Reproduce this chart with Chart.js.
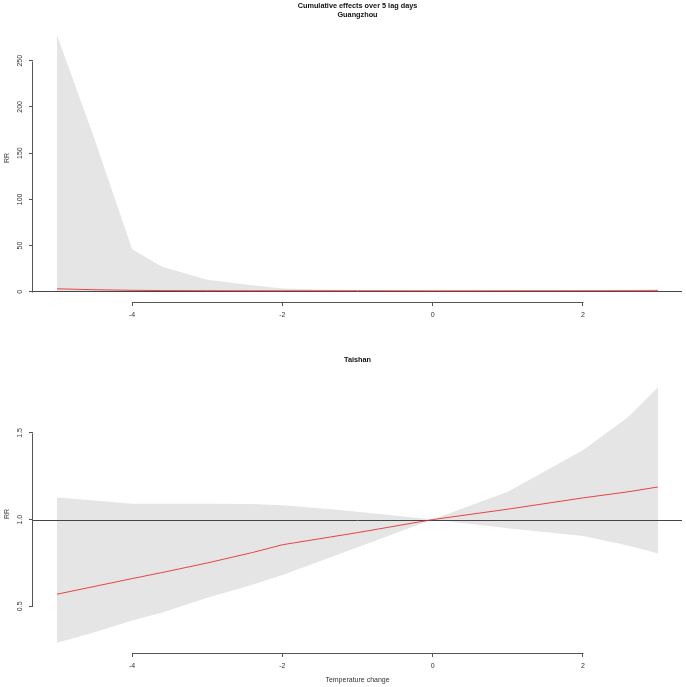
<!DOCTYPE html>
<html>
<head>
<meta charset="utf-8">
<script src="https://cdn.jsdelivr.net/npm/chart.js@4/dist/chart.umd.min.js"></script>
<style>
  html, body { margin: 0; padding: 0; background: #fff; }
  #wrap { position: relative; width: 686px; height: 687px; }
  .box { position: absolute; left: 0; width: 686px; }
</style>
</head>
<body>
<div id="wrap">
  <div class="box" style="top:0;height:343px"><canvas id="c1" width="686" height="343"></canvas></div>
  <div class="box" style="top:343px;height:344px"><canvas id="c2" width="686" height="344"></canvas></div>
</div>
<script>
// ---- data ----
const tempChange = [-5, -4.5, -4, -3.6, -3, -2.4, -2, -1.5, -1, 0, 1, 2, 2.6, 3];

const gzRR    = [3.2, 2.2, 1.6, 1.3, 1.15, 1.08, 1.05, 1.03, 1.02, 1.0, 1.02, 1.05, 1.08, 1.1];
const gzLower = [0.04, 0.03, 0.06, 0.07, 0.1, 0.17, 0.3, 0.42, 0.56, 1.0, 0.74, 0.58, 0.5, 0.45];
const gzUpper = [277.5, 165, 46, 27, 13, 7, 3.5, 2.5, 1.8, 1.0, 1.4, 1.9, 2.3, 2.6];

const tsRR    = [0.57, 0.615, 0.66, 0.695, 0.75, 0.81, 0.855, 0.89, 0.925, 1.0, 1.06, 1.125, 1.16, 1.188];
const tsLower = [0.29, 0.35, 0.418, 0.465, 0.55, 0.625, 0.68, 0.76, 0.84, 1.0, 0.95, 0.905, 0.85, 0.804];
const tsUpper = [1.127, 1.11, 1.092, 1.092, 1.092, 1.09, 1.082, 1.065, 1.045, 1.0, 1.16, 1.4, 1.59, 1.763];

const xTicks = [-4, -2, 0, 2];
const gzYTicks = [0, 50, 100, 150, 200, 250];
const tsYTicks = [0.5, 1.0, 1.5];
const tsYLabels = ['0.5', '1.0', '1.5'];

const mainTitle = 'Cumulative effects over 5 lag days';
const gzTitle = 'Guangzhou';
const tsTitle = 'Taishan';
const xTitle = 'Temperature change';
const yTitle = 'RR';
const refValue = 1;

// ---- helpers ----
const FONT = "'Liberation Sans', Arial, sans-serif";
const pts = (xs, ys) => xs.map((x, i) => ({ x: x, y: ys[i] }));
const ext = (lo, hi) => { const p = 0.04 * (hi - lo); return [lo - p, hi + p]; };
const [xMin, xMax] = ext(Math.min(...tempChange), Math.max(...tempChange));

function makeChart(canvas, rr, lower, upper, yTicks, yLabels, cfg) {
  const [yMin, yMax] = ext(Math.min(...lower), Math.max(...upper));
  const axisPlugin = {
    id: 'rAxes',
    afterDatasetDraw(chart, args) {
      if (args.index !== 1) return;
      const ctx = chart.ctx, a = chart.chartArea, ys = chart.scales.y;
      const py = Math.round(ys.getPixelForValue(refValue)) + 0.5;
      ctx.save();
      ctx.strokeStyle = '#444';
      ctx.lineWidth = 1;
      ctx.beginPath(); ctx.moveTo(a.left, py); ctx.lineTo(a.right, py); ctx.stroke();
      ctx.restore();
    },
    afterDraw(chart) {
      const ctx = chart.ctx, a = chart.chartArea, xs = chart.scales.x, ys = chart.scales.y;
      ctx.save();
      ctx.strokeStyle = '#555';
      ctx.lineWidth = 1;
      // partial axis lines (R style)
      const bx = Math.round(a.bottom) + 0.5;
      ctx.beginPath();
      ctx.moveTo(Math.round(xs.getPixelForValue(xTicks[0])) + 0.5, bx);
      ctx.lineTo(Math.round(xs.getPixelForValue(xTicks[xTicks.length - 1])) + 0.5, bx);
      ctx.stroke();
      const lx = Math.round(a.left) - 0.5;
      ctx.beginPath();
      ctx.moveTo(lx, Math.round(ys.getPixelForValue(yTicks[0])) + 0.5);
      ctx.lineTo(lx, Math.round(ys.getPixelForValue(yTicks[yTicks.length - 1])) + 0.5);
      ctx.stroke();
      // y tick labels, rotated
      ctx.fillStyle = '#333';
      ctx.font = '7px ' + FONT;
      ctx.textAlign = 'center';
      ctx.textBaseline = 'middle';
      yTicks.forEach((v, i) => {
        ctx.save();
        ctx.translate(20.5, ys.getPixelForValue(v));
        ctx.rotate(-Math.PI / 2);
        ctx.fillText(yLabels[i], 0, 0);
        ctx.restore();
      });
      // y title
      ctx.save();
      ctx.translate(7, cfg.yTitleY);
      ctx.rotate(-Math.PI / 2);
      ctx.fillText(yTitle, 0, 0);
      ctx.restore();
      const cx = (a.left + a.right) / 2;
      // titles
      ctx.fillStyle = '#111';
      ctx.font = 'bold 7.3px ' + FONT;
      cfg.titles.forEach(t => ctx.fillText(t.text, cx, t.y));
      if (cfg.xTitleY) {
        ctx.fillStyle = '#333';
        ctx.font = '7px ' + FONT;
        ctx.fillText(xTitle, cx, cfg.xTitleY);
      }
      ctx.restore();
    }
  };
  const gridCfg = { drawOnChartArea: false, drawTicks: true, tickLength: 4, color: '#555', lineWidth: 1 };
  return new Chart(canvas, {
    type: 'line',
    data: {
      datasets: [
        { data: pts(tempChange, rr), borderColor: 'rgba(230,40,40,0.85)', borderWidth: 1, pointRadius: 0, tension: 0, fill: false },
        { data: pts(tempChange, lower), borderColor: 'rgba(0,0,0,0)', borderWidth: 0, pointRadius: 0, tension: 0, fill: false },
        { data: pts(tempChange, upper), borderColor: 'rgba(0,0,0,0)', borderWidth: 0, pointRadius: 0, tension: 0,
          fill: '-1', backgroundColor: '#e5e5e5' }
      ]
    },
    options: {
      responsive: false,
      animation: false,
      devicePixelRatio: 1,
      layout: { padding: { top: cfg.padTop, right: 4, left: 0, bottom: 0 } },
      plugins: { legend: { display: false }, tooltip: { enabled: false }, title: { display: false } },
      scales: {
        x: {
          type: 'linear', min: xMin, max: xMax,
          afterBuildTicks: s => { s.ticks = xTicks.map(v => ({ value: v })); },
          afterFit: s => { s.height = cfg.xHeight; },
          border: { display: false },
          grid: gridCfg,
          ticks: { font: { family: FONT, size: 7 }, color: '#333', padding: 5, autoSkip: false, maxRotation: 0, minRotation: 0,
                   callback: v => String(v) }
        },
        y: {
          type: 'linear', min: yMin, max: yMax,
          afterBuildTicks: s => { s.ticks = yTicks.map(v => ({ value: v })); },
          afterFit: s => { s.width = 33; },
          border: { display: false },
          grid: gridCfg,
          ticks: { display: false }
        }
      }
    },
    plugins: [axisPlugin]
  });
}

makeChart(document.getElementById('c1'), gzRR, gzLower, gzUpper, gzYTicks, gzYTicks.map(String), {
  padTop: 25, xHeight: 41, yTitleY: 158,
  titles: [{ text: mainTitle, y: 6 }, { text: gzTitle, y: 15 }]
});
makeChart(document.getElementById('c2'), tsRR, tsLower, tsUpper, tsYTicks, tsYLabels, {
  padTop: 34, xHeight: 34, yTitleY: 171, xTitleY: 337,
  titles: [{ text: tsTitle, y: 17 }]
});
</script>
</body>
</html>
